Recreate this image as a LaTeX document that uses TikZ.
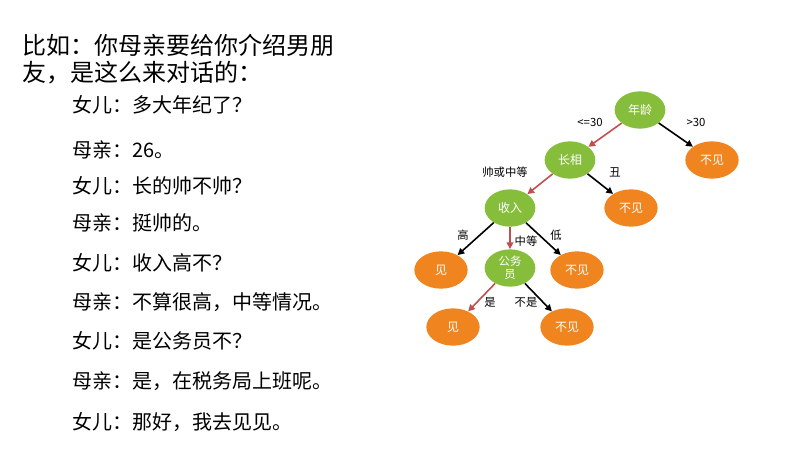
\documentclass[tikz,border=0pt]{standalone}
\usepackage{fontspec}
\setmainfont{Noto Sans CJK SC}
\usetikzlibrary{shapes.geometric,arrows.meta}
\definecolor{greenN}{HTML}{86BE3C}
\definecolor{orangeN}{HTML}{F0841E}
\definecolor{redE}{HTML}{C0504D}
\tikzset{
  dec/.style={ellipse,fill=greenN,text=white,minimum width=38pt,minimum height=28pt,inner sep=0pt,font=\fontsize{9}{10}\selectfont},
  leaf/.style={ellipse,fill=orangeN,text=white,minimum width=40pt,minimum height=28pt,inner sep=0pt,font=\fontsize{9}{10}\selectfont},
  redarr/.style={draw=redE,line width=1.2pt,-{Triangle[length=5pt,width=5pt]}},
  blkarr/.style={draw=black,line width=1.2pt,-{Triangle[length=5pt,width=5pt]}},
  elab/.style={font=\fontsize{8.5}{10}\selectfont,inner sep=1pt},
  title/.style={anchor=west,font=\fontsize{18}{22}\selectfont,inner sep=0pt},
  dlg/.style={anchor=west,font=\fontsize{15}{18}\selectfont,inner sep=0pt}
}
\begin{document}
\begin{tikzpicture}[x=0.75pt,y=-0.75pt]
\useasboundingbox (0,0) rectangle (809,465);
% text
\node[title] (t1) at (22,45) {比如：你母亲要给你介绍男朋};
\node[title] (t2) at (22,73) {友，是这么来对话的：};
\node[dlg] (d1) at (72,105) {女儿：多大年纪了？};
\node[dlg] (d2) at (72,150) {母亲：26。};
\node[dlg] (d3) at (72,186) {女儿：长的帅不帅？};
\node[dlg] (d4) at (72,223) {母亲：挺帅的。};
\node[dlg] (d5) at (72,263) {女儿：收入高不？};
\node[dlg] (d6) at (72,302) {母亲：不算很高，中等情况。};
\node[dlg] (d7) at (72,341) {女儿：是公务员不？};
\node[dlg] (d8) at (72,381) {母亲：是，在税务局上班呢。};
\node[dlg] (d9) at (72,422) {女儿：那好，我去见见。};
% tree
\node[dec] (age) at (640,110) {年龄};
\node[leaf] (n1) at (712,160) {不见};
\node[dec] (look) at (570,160) {长相};
\node[leaf] (n2) at (631,208) {不见};
\node[dec] (inc) at (510,208) {收入};
\node[leaf] (y1) at (441,270) {见};
\node[dec,align=center,font=\fontsize{8.5}{10}\selectfont] (civ) at (510,268) {公务\\员};
\node[leaf] (n3) at (577,270) {不见};
\node[leaf] (y2) at (453,327) {见};
\node[leaf] (n4) at (567,327) {不见};
\draw[redarr] (age) -- (look);
\draw[blkarr] (age) -- (n1);
\draw[redarr] (look) -- (inc);
\draw[blkarr] (look) -- (n2);
\draw[blkarr] (inc) -- (y1);
\draw[redarr] (inc) -- (civ);
\draw[blkarr] (inc) -- (n3);
\draw[redarr] (civ) -- (y2);
\draw[blkarr] (civ) -- (n4);
\node[elab] (l1) at (590,122) {<=30};
\node[elab] (l2) at (696,122) {>30};
\node[elab] (l3) at (505,172) {帅或中等};
\node[elab] (l4) at (615,172) {丑};
\node[elab] (l5) at (463,235) {高};
\node[elab] (l6) at (526,241) {中等};
\node[elab] (l7) at (556,235) {低};
\node[elab] (l8) at (490,302) {是};
\node[elab] (l9) at (526,302) {不是};
\end{tikzpicture}
\end{document}
